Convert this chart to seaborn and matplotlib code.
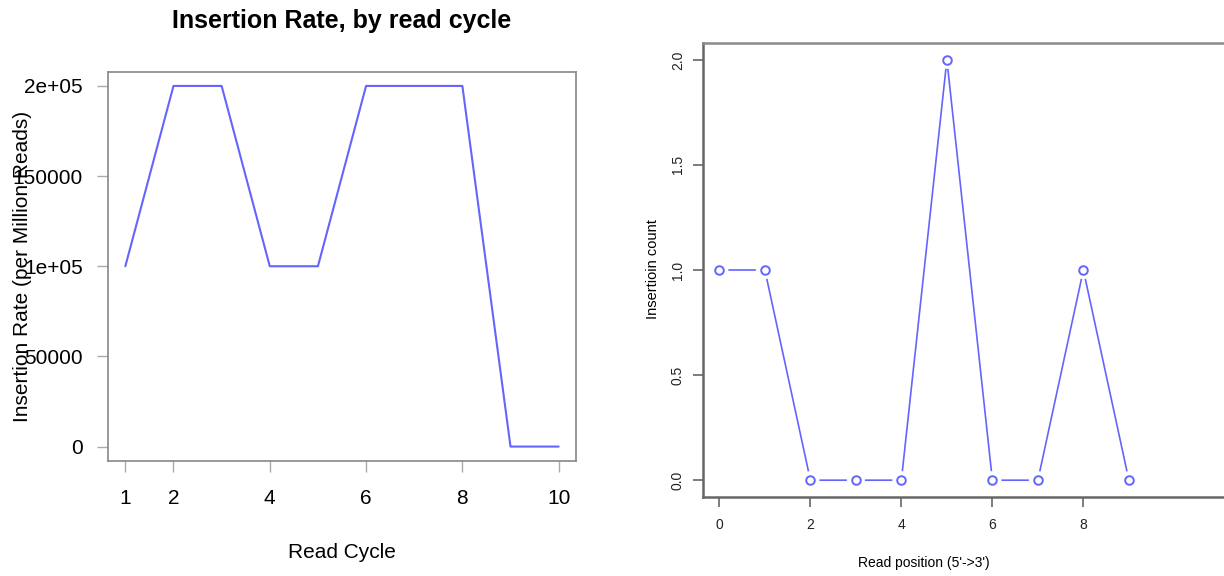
import matplotlib
matplotlib.use("Agg")
import matplotlib.pyplot as plt
import seaborn as sns
import pandas as pd

# Left panel data
cycles = [1, 2, 3, 4, 5, 6, 7, 8, 9, 10]
rates = [100000, 200000, 200000, 100000, 100000, 200000, 200000, 200000, 0, 0]
left_xticks = [1, 2, 4, 6, 8, 10]
left_yticks = [0, 50000, 100000, 150000, 200000]
left_yticklabels = ["0", "50000", "1e+05", "150000", "2e+05"]

# Right panel data
positions = [0, 1, 2, 3, 4, 5, 6, 7, 8, 9]
counts = [1, 1, 0, 0, 0, 2, 0, 0, 1, 0]
right_xticks = [0, 2, 4, 6, 8]
right_yticks = [0.0, 0.5, 1.0, 1.5, 2.0]
right_yticklabels = ["0.0", "0.5", "1.0", "1.5", "2.0"]

sns.set_style("white")
plt.rcParams["font.family"] = ["Liberation Sans", "DejaVu Sans"]
plt.rcParams["text.color"] = "black"
plt.rcParams["axes.labelcolor"] = "black"

W, H = 1224, 576
fig = plt.figure(figsize=(W / 100, H / 100), dpi=100)

def px_axes(x0, y0, x1, y1):
    return fig.add_axes([x0 / W, 1 - y1 / H, (x1 - x0) / W, (y1 - y0) / H])

blue = "#6464FF"

# ---------- Left panel ----------
axL = px_axes(108, 71.5, 576, 461)
dfL = pd.DataFrame({"cycle": cycles, "rate": rates})
sns.lineplot(data=dfL, x="cycle", y="rate", ax=axL, color=blue, linewidth=1.5)
axL.set_xlim(1 - 0.36, 10 + 0.36)
axL.set_ylim(-8000, 208000)
axL.set_xticks(left_xticks)
axL.set_xticklabels([str(t) for t in left_xticks])
axL.set_yticks(left_yticks)
axL.set_yticklabels(left_yticklabels)
for s in axL.spines.values():
    s.set_visible(True)
    s.set_color("#888888")
    s.set_linewidth(1.2)
axL.tick_params(axis="both", which="both", direction="out", length=8, width=1,
                color="#aaaaaa", labelsize=15, labelcolor="black",
                bottom=True, left=True)
axL.tick_params(axis="x", pad=12)
axL.tick_params(axis="y", pad=10)
axL.set_xlabel("Read Cycle", fontsize=15)
axL.xaxis.set_label_coords(0.5, -0.21)
axL.set_ylabel("Insertion Rate (per Million Reads)", fontsize=15)
axL.yaxis.set_label_coords(-0.162, 0.5)
axL.set_title("Insertion Rate, by read cycle", fontsize=18, fontweight="bold", pad=31)

# ---------- Right panel ----------
axR = px_axes(703, 43, 1270, 497)
dfR = pd.DataFrame({"pos": positions, "count": counts})
sns.lineplot(data=dfR, x="pos", y="count", ax=axR, color=blue, linewidth=1.2, zorder=2)
sns.scatterplot(data=dfR, x="pos", y="count", ax=axR, color="white", s=170,
                marker="o", edgecolor="none", zorder=3)
sns.scatterplot(data=dfR, x="pos", y="count", ax=axR, facecolor="white",
                edgecolor=blue, linewidth=1.4, s=38, marker="o", zorder=4)
axR.set_xlim(-0.36, -0.36 + (1270 - 703) / 45.5)
axR.set_ylim(-0.08, 2.08)
axR.set_xticks(right_xticks)
axR.set_xticklabels([str(t) for t in right_xticks])
axR.set_yticks(right_yticks)
axR.set_yticklabels(right_yticklabels, rotation=90, va="center")
for name, s in axR.spines.items():
    s.set_visible(True)
    s.set_color("#666666")
    s.set_linewidth(1.8)
axR.spines["top"].set_color("#8a8a8a")
axR.tick_params(axis="both", which="both", direction="out", length=7, width=1.2,
                color="#666666", labelsize=10, labelcolor="#222222",
                bottom=True, left=True)
axR.tick_params(axis="x", pad=8)
axR.tick_params(axis="y", pad=6)
axR.set_xlabel("Read position (5'->3')", fontsize=10)
axR.xaxis.set_label_coords((924 - 703) / (1270 - 703), -(556 - 497) / (497 - 43))
axR.set_ylabel("Insertioin count", fontsize=10.5)
axR.yaxis.set_label_coords(-(703 - 660) / (1270 - 703), (497 - 269) / (497 - 43))

fig.savefig("out.png", dpi=100)
